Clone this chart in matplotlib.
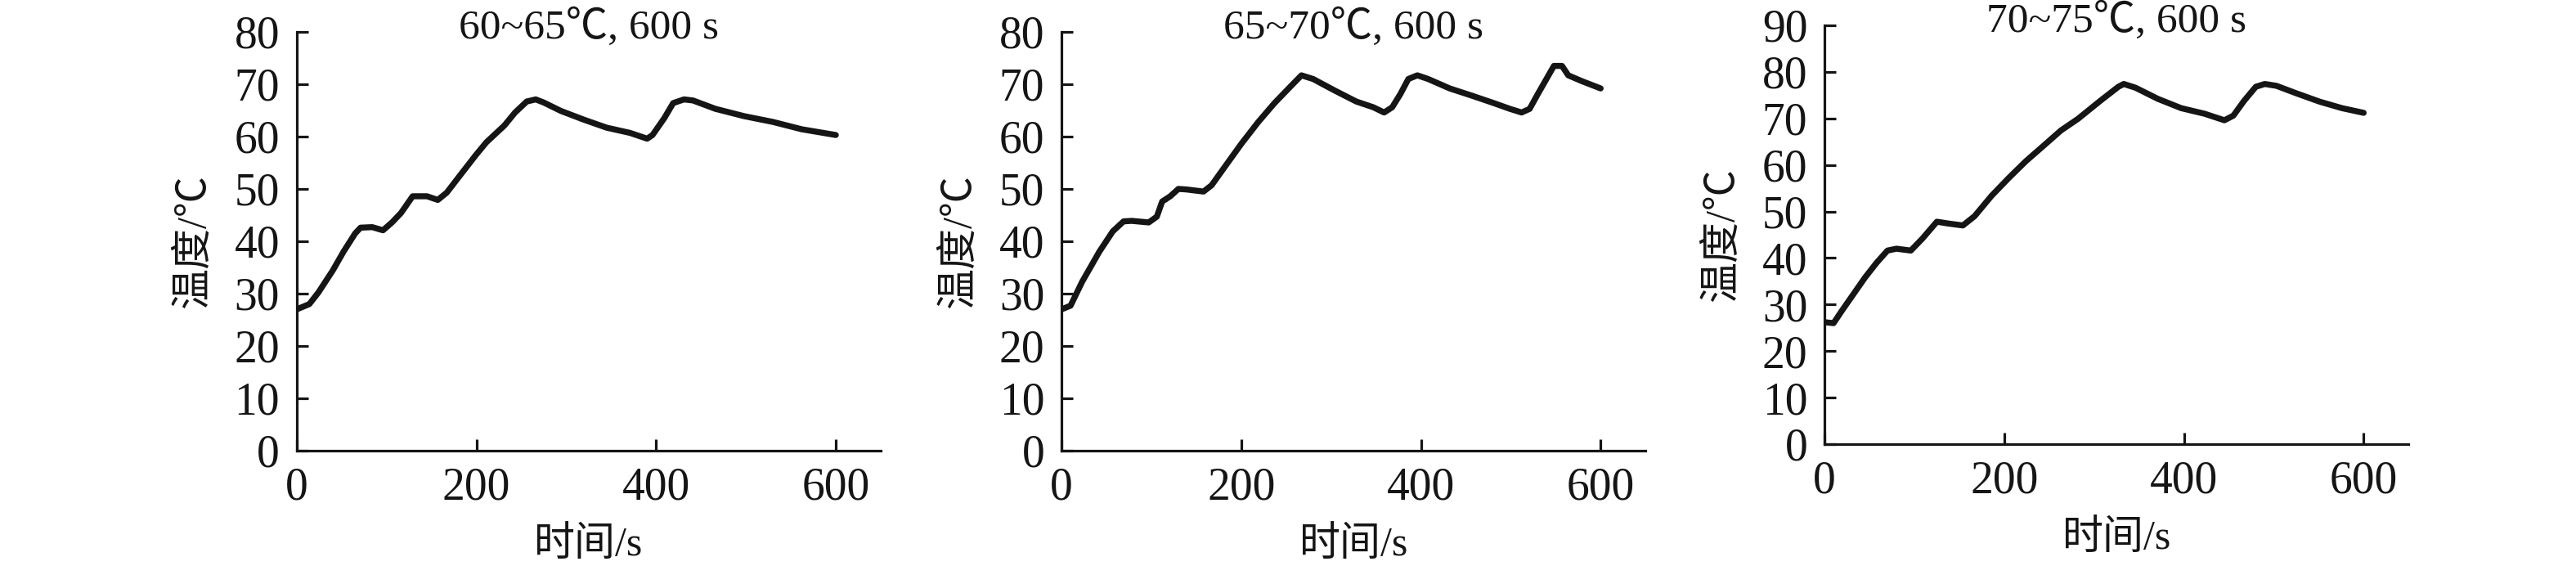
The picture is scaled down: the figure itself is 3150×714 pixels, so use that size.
import matplotlib; matplotlib.use("Agg")
import matplotlib.pyplot as plt

# panel titles, y limits
TITLES=["60~65℃, 600 s","65~70℃, 600 s","70~75℃, 600 s"]
YMAX=[80,80,90]

# curves (time s, temperature C)
t1=[0,14,24,40,52,65,71,84,96,106,116,129,145,157,167,180,199,211,231,243,256,266,275,294,320,345,371,390,396,409,419,431,441,466,498,530,562,600]
T1=[27.0,28.0,30.2,34.4,38.0,41.5,42.6,42.7,42.1,43.6,45.4,48.6,48.6,47.9,49.3,52.2,56.4,58.9,62.1,64.6,66.7,67.1,66.5,64.9,63.2,61.7,60.7,59.6,60.3,63.5,66.4,67.1,66.9,65.3,63.9,62.8,61.4,60.3]
t2=[0,10,23,42,57,69,78,97,106,112,121,130,139,158,167,182,200,219,237,255,267,280,304,328,347,359,368,377,386,396,408,432,457,481,499,512,521,530,542,548,557,564,579,600]
T2=[27.0,27.7,32.3,38.0,41.9,43.8,43.9,43.6,44.7,47.6,48.6,50.0,49.9,49.5,50.7,54.3,58.6,62.8,66.4,69.6,71.7,71.0,68.8,66.7,65.6,64.6,65.6,68.1,71.0,71.7,71.0,69.2,67.8,66.4,65.3,64.6,65.3,68.1,71.7,73.5,73.5,71.7,70.6,69.2]
t3=[0,10,19,32,45,58,70,80,96,109,125,138,154,167,186,205,224,243,263,282,307,327,333,346,371,397,423,445,455,467,480,490,503,525,551,576,600]
T3=[26.2,26.0,28.6,32.2,35.8,39.0,41.6,42.0,41.6,44.2,47.8,47.4,47.0,49.0,53.4,57.2,60.8,64.0,67.4,69.9,73.8,76.8,77.4,76.6,74.2,72.2,71.0,69.6,70.6,73.8,76.8,77.4,77.0,75.4,73.6,72.2,71.2]
SERIES=[(t1,T1),(t2,T2),(t3,T3)]

XTICKS=[0,200,400,600]
XLABEL="时间/s"; YLABEL="温度/℃"

plt.rcParams["font.family"]=["Liberation Serif","Noto Sans CJK SC","DejaVu Sans"]
INK="#151515"

# axes boxes in figure fractions (px measured on the 3150x714 reference)
POS=[[0.1152,0.2283,0.2267,0.7171],[0.4121,0.2283,0.2267,0.7171],[0.7083,0.2395,0.2267,0.7171]]

fig=plt.figure(figsize=(31.5,7.14),dpi=100)
for i,(t,T) in enumerate(SERIES):
    ax=fig.add_axes(POS[i])
    ax.plot(t,T,color=INK,lw=5.3,solid_joinstyle="round",solid_capstyle="round")
    ax.set_xlim(0,650); ax.set_ylim(0,YMAX[i])
    ax.set_xticks(XTICKS); ax.set_yticks(range(0,YMAX[i]+1,10))
    for s in ("top","right"): ax.spines[s].set_visible(False)
    for s in ("left","bottom"): ax.spines[s].set_linewidth(2.3); ax.spines[s].set_color(INK)
    ax.tick_params(direction="in",length=10,width=2.3,labelsize=40,colors=INK)
    ax.tick_params(axis="x",pad=14); ax.tick_params(axis="y",pad=15)
    ax.text(0.5,0.984,TITLES[i],transform=ax.transAxes,ha="center",va="baseline",fontsize=37,color=INK)
    ax.set_xlabel(XLABEL,fontsize=36,labelpad=15,color=INK)
    ax.set_ylabel(YLABEL,fontsize=36,labelpad=18,color=INK)
fig.savefig("out.png",dpi=100)
